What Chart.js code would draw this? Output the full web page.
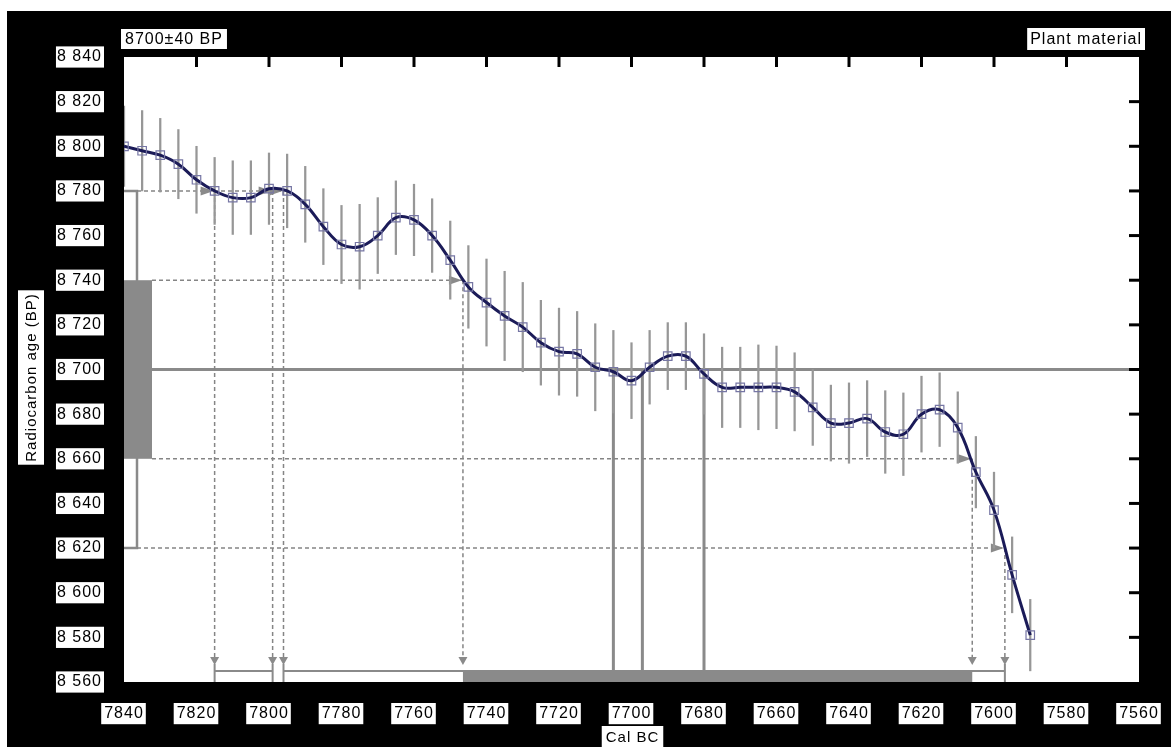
<!DOCTYPE html>
<html>
<head>
<meta charset="utf-8">
<title>Radiocarbon calibration 8700±40 BP</title>
<script src="https://cdn.jsdelivr.net/npm/chart.js@4/dist/chart.umd.min.js"></script>
<style>
  html, body { margin: 0; padding: 0; background: #fff; }
  #frame { position: absolute; left: 7px; top: 11px; width: 1164px; height: 736px; background: #000; }
  canvas { display: block; }
</style>
</head>
<body>
<div id="frame"><canvas id="calChart" width="1164" height="736"></canvas></div>
<script>
// Calibration curve (cal BC, radiocarbon age BP, 1-sigma of the curve)
const calYears = [7840, 7835, 7830, 7825, 7820, 7815, 7810, 7805, 7800, 7795,
                  7790, 7785, 7780, 7775, 7770, 7765, 7760, 7755, 7750, 7745,
                  7740, 7735, 7730, 7725, 7720, 7715, 7710, 7705, 7700, 7695,
                  7690, 7685, 7680, 7675, 7670, 7665, 7660, 7655, 7650, 7645,
                  7640, 7635, 7630, 7625, 7620, 7615, 7610, 7605, 7600, 7595, 7590];
const calAges = [8800, 8798, 8796, 8792, 8785, 8780, 8777, 8777, 8781, 8780,
                 8774, 8764, 8756, 8755, 8760, 8768, 8767, 8760, 8749, 8737,
                 8730, 8724, 8719, 8712, 8708, 8707, 8701, 8699, 8695, 8701,
                 8706, 8706, 8698, 8692, 8692, 8692, 8692, 8690, 8683, 8676,
                 8676, 8678, 8672, 8671, 8680, 8682, 8674, 8654, 8637, 8608, 8581];
const calSigmas = [18, 18, 16.5, 15.5, 15, 15, 16.5, 16.5, 16, 16.5,
                   17, 17, 17.5, 19, 17, 16.5, 16, 16.5, 17.5, 18.5,
                   19.5, 20, 20, 19, 19.5, 19, 19.5, 18.5, 17, 16.5,
                   15, 15, 18, 18, 18, 19, 18.5, 17.5, 17, 17,
                   18, 17, 18.5, 18.5, 17, 16.5, 16, 16, 17, 17, 16];

// Measurement and calibrated results
const measuredAge = 8700;
const measuredSigma = 40;
const sampleLabel = '8700±40 BP';
const materialLabel = 'Plant material';
const oneSigmaRanges = [[7746.5, 7606]];
const twoSigmaRanges = [[7815, 7799], [7796, 7597]];
const interceptYears = [7705, 7697, 7680];

// Axes
const xTitle = 'Cal BC';
const yTitle = 'Radiocarbon age (BP)';
const xTickValues = [7840, 7820, 7800, 7780, 7760, 7740, 7720, 7700, 7680, 7660, 7640, 7620, 7600, 7580, 7560];
const xTickLabels = ['7840', '7820', '7800', '7780', '7760', '7740', '7720', '7700', '7680', '7660', '7640', '7620', '7600', '7580', '7560'];
const yTickValues = [8560, 8580, 8600, 8620, 8640, 8660, 8680, 8700, 8720, 8740, 8760, 8780, 8800, 8820, 8840];
const yTickLabels = ['8 560', '8 580', '8 600', '8 620', '8 640', '8 660', '8 680', '8 700', '8 720', '8 740', '8 760', '8 780', '8 800', '8 820', '8 840'];

const GRAY = '#8a8a8a';
const FONT = '"Liberation Sans", Arial, sans-serif';

// curve value at a calendar year (straight-line between tabulated points)
function curveAt(year) {
  for (let i = 0; i < calYears.length - 1; i++) {
    const a = calYears[i], b = calYears[i + 1];
    if (year <= a && year >= b) {
      const t = (a - year) / (a - b);
      return calAges[i] + t * (calAges[i + 1] - calAges[i]);
    }
  }
  return calAges[calAges.length - 1];
}

function seg(ctx, x1, y1, x2, y2) {
  ctx.beginPath(); ctx.moveTo(x1, y1); ctx.lineTo(x2, y2); ctx.stroke();
}
function arrowRight(ctx, tipX, yy) {
  ctx.beginPath();
  ctx.moveTo(tipX, yy);
  ctx.lineTo(tipX - 13, yy - 4.5);
  ctx.lineTo(tipX - 13, yy + 4.5);
  ctx.closePath(); ctx.fill();
}
function arrowDown(ctx, xx, tipY) {
  ctx.beginPath();
  ctx.moveTo(xx, tipY);
  ctx.lineTo(xx - 4.5, tipY - 8);
  ctx.lineTo(xx + 4.5, tipY - 8);
  ctx.closePath(); ctx.fill();
}
function boxedText(ctx, text, cx, cy, h, padX) {
  const w = ctx.measureText(text).width + 2 * padX;
  ctx.fillStyle = '#fff';
  ctx.fillRect(cx - w / 2, cy - h / 2, w, h);
  ctx.fillStyle = '#000';
  ctx.textAlign = 'center';
  ctx.textBaseline = 'middle';
  ctx.fillText(text, cx, cy + 1);
  return w;
}

const spacingPlugin = {
  id: 'letterSpacing',
  beforeUpdate(chart) { chart.ctx.letterSpacing = '1px'; },
  beforeDraw(chart) { chart.ctx.letterSpacing = '1px'; }
};

const plotBackground = {
  id: 'plotBackground',
  beforeDraw(chart) {
    const {ctx, chartArea: ca} = chart;
    ctx.save();
    ctx.fillStyle = '#fff';
    ctx.fillRect(ca.left, ca.top, ca.right - ca.left, ca.bottom - ca.top);
    ctx.restore();
  }
};

// measured age box, bracket, projections and calibrated ranges
const calibrationOverlay = {
  id: 'calibrationOverlay',
  beforeDatasetsDraw(chart) {
    const {ctx, chartArea: ca, scales: {x, y}} = chart;
    const boxW = 28, bracketX = ca.left + 13;
    const barTop = ca.bottom - 11;
    ctx.save();
    ctx.beginPath();
    ctx.rect(ca.left, ca.top, ca.right - ca.left, ca.bottom - ca.top);
    ctx.clip();

    const yAge = y.getPixelForValue(measuredAge);
    const y1hi = y.getPixelForValue(measuredAge + measuredSigma);
    const y1lo = y.getPixelForValue(measuredAge - measuredSigma);
    const y2hi = y.getPixelForValue(measuredAge + 2 * measuredSigma);
    const y2lo = y.getPixelForValue(measuredAge - 2 * measuredSigma);

    ctx.fillStyle = GRAY;
    ctx.strokeStyle = GRAY;
    ctx.fillRect(ca.left, y1hi, boxW, y1lo - y1hi);

    ctx.lineWidth = 2.5;
    ctx.beginPath();
    ctx.moveTo(ca.left, y2hi); ctx.lineTo(bracketX, y2hi);
    ctx.lineTo(bracketX, y2lo); ctx.lineTo(ca.left, y2lo);
    ctx.stroke();

    ctx.lineWidth = 3;
    seg(ctx, ca.left + boxW, yAge, ca.right, yAge);
    interceptYears.forEach(yr => {
      const px = x.getPixelForValue(yr);
      seg(ctx, px, yAge, px, barTop);
    });

    // range boundaries projected from the age levels
    const bounds = [];
    const collect = (ranges, k, startX) => ranges.forEach(r => r.forEach(yr => {
      const up = curveAt(yr) > measuredAge;
      bounds.push({px: x.getPixelForValue(yr),
                   py: y.getPixelForValue(measuredAge + (up ? 1 : -1) * k * measuredSigma),
                   startX});
    }));
    collect(twoSigmaRanges, 2, bracketX);
    collect(oneSigmaRanges, 1, ca.left + boxW);

    ctx.lineWidth = 1.5;
    ctx.strokeStyle = '#858585';
    ctx.setLineDash([4, 3]);
    const levels = {};
    bounds.forEach(b => {
      const key = Math.round(b.py);
      if (!levels[key] || levels[key].px < b.px) levels[key] = b;
    });
    Object.values(levels).forEach(b => seg(ctx, b.startX, b.py, b.px, b.py));
    bounds.forEach(b => seg(ctx, b.px, b.py, b.px, ca.bottom - 25));
    ctx.setLineDash([]);
    ctx.strokeStyle = GRAY;

    // calibrated ranges along the bottom
    ctx.lineWidth = 2;
    twoSigmaRanges.forEach(r => {
      const pa = x.getPixelForValue(r[0]), pb = x.getPixelForValue(r[1]);
      seg(ctx, pa, barTop, pb, barTop);
      seg(ctx, pa, ca.bottom - 18, pa, ca.bottom);
      seg(ctx, pb, ca.bottom - 18, pb, ca.bottom);
    });
    oneSigmaRanges.forEach(r => {
      const pa = x.getPixelForValue(r[0]), pb = x.getPixelForValue(r[1]);
      ctx.fillRect(pa, barTop, pb - pa, ca.bottom - barTop);
    });

    bounds.forEach(b => {
      arrowRight(ctx, b.px - 1, b.py);
      arrowDown(ctx, b.px, ca.bottom - 17);
    });
    ctx.restore();
  }
};

// boxed titles and inner tick marks
const frameLabels = {
  id: 'frameLabels',
  afterDraw(chart) {
    const {ctx, chartArea: ca, scales: {x, y}} = chart;
    ctx.save();
    ctx.strokeStyle = '#000';
    ctx.lineWidth = 3;
    xTickValues.forEach(v => {
      if (v === x.min || v === x.max) return;
      const px = x.getPixelForValue(v);
      seg(ctx, px, ca.top, px, ca.top + 10);
    });
    yTickValues.forEach(v => {
      if (v === y.min || v === y.max) return;
      const py = y.getPixelForValue(v);
      seg(ctx, ca.right - 10, py, ca.right, py);
    });

    ctx.letterSpacing = '1px';
    ctx.font = '16px ' + FONT;
    const w1 = ctx.measureText(sampleLabel).width + 8;
    boxedText(ctx, sampleLabel, ca.left - 3 + w1 / 2, ca.top - 18, 20, 4);
    const w2 = ctx.measureText(materialLabel).width + 6;
    boxedText(ctx, materialLabel, ca.right + 6 - w2 / 2, ca.top - 18, 22, 3);

    ctx.font = '15px ' + FONT;
    boxedText(ctx, xTitle, (ca.left + ca.right) / 2 + 1, ca.bottom + 55, 22, 4);

    ctx.translate(24, (ca.top + ca.bottom) / 2 + 8);
    ctx.rotate(-Math.PI / 2);
    boxedText(ctx, yTitle, 0, 0, 26, 3);
    ctx.restore();
  }
};

Chart.defaults.font.family = FONT;
Chart.defaults.color = '#000';

new Chart(document.getElementById('calChart'), {
  type: 'line',
  data: {
    datasets: [
      {
        label: 'Calibration curve',
        data: calYears.map((yr, i) => ({x: yr, y: calAges[i]})),
        borderColor: '#1b1b58',
        borderWidth: 3,
        tension: 0.4,
        pointStyle: 'rect',
        pointRadius: 6,
        pointBorderWidth: 1.2,
        pointBorderColor: '#7676a4',
        pointBackgroundColor: 'rgba(0,0,0,0)',
        order: 0
      },
      {
        type: 'bar',
        label: 'Curve 1σ',
        data: calYears.map((yr, i) => ({x: yr, y: [calAges[i] - calSigmas[i], calAges[i] + calSigmas[i]]})),
        backgroundColor: '#979797',
        barThickness: 1.6,
        order: 2
      }
    ]
  },
  options: {
    responsive: false,
    devicePixelRatio: 1,
    animation: false,
    layout: { padding: { top: 46, right: 32, left: 0, bottom: 0 } },
    plugins: { legend: { display: false }, tooltip: { enabled: false }, title: { display: false } },
    scales: {
      x: {
        type: 'linear',
        reverse: true,
        min: 7560, max: 7840,
        offset: false,
        grid: { display: false, drawTicks: false },
        border: { display: false },
        afterFit(scale) { scale.height = 65; scale.paddingLeft = 0; scale.paddingRight = 0; },
        ticks: {
          stepSize: 20,
          autoSkip: false,
          maxRotation: 0,
          padding: 22,
          font: { size: 16 },
          color: '#000',
          showLabelBackdrop: true,
          backdropColor: '#fff',
          backdropPadding: { top: 1, bottom: 1, left: 3, right: 2 },
          callback: (v) => { const i = xTickValues.indexOf(v); return i >= 0 ? xTickLabels[i] : ''; }
        }
      },
      y: {
        type: 'linear',
        min: 8560, max: 8840,
        grid: { display: false, drawTicks: false },
        border: { display: false },
        afterFit(scale) { scale.width = 117; scale.paddingTop = 0; scale.paddingBottom = 0; },
        ticks: {
          stepSize: 20,
          autoSkip: false,
          padding: 22,
          font: { size: 16 },
          color: '#000',
          showLabelBackdrop: true,
          backdropColor: '#fff',
          backdropPadding: { top: 1, bottom: 1, left: 1, right: 2 },
          callback: (v) => { const i = yTickValues.indexOf(v); return i >= 0 ? yTickLabels[i] : ''; }
        }
      }
    }
  },
  plugins: [spacingPlugin, plotBackground, calibrationOverlay, frameLabels]
});
</script>
</body>
</html>
